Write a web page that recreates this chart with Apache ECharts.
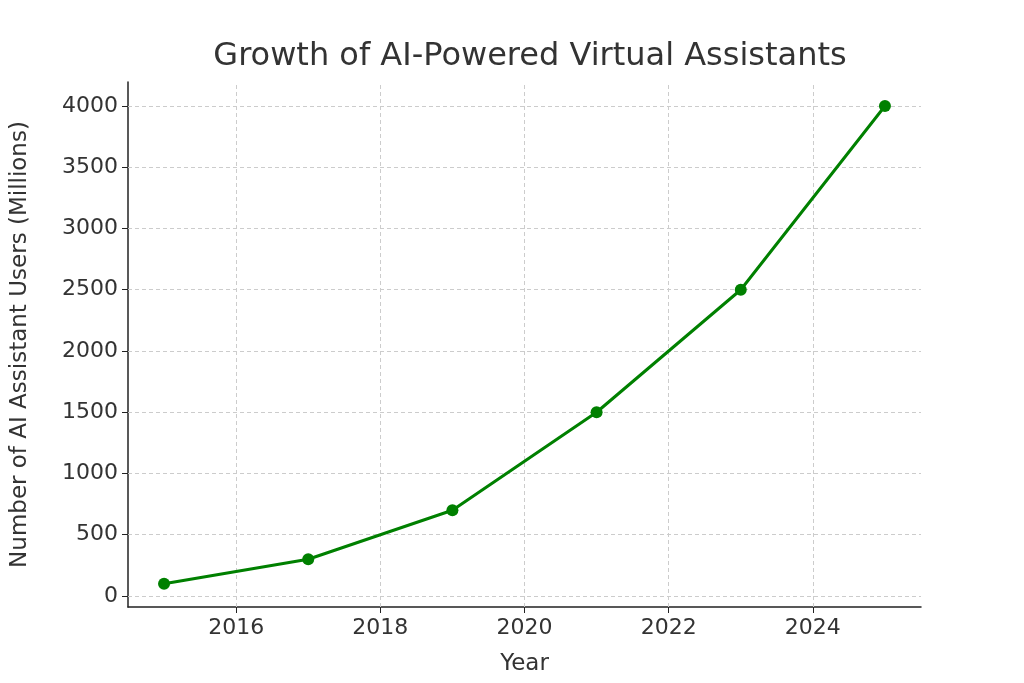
<!DOCTYPE html>
<html><head><meta charset="utf-8">
<script src="https://cdn.jsdelivr.net/npm/echarts@6/dist/echarts.min.js"></script>
<style>html,body{margin:0;background:#fff}#c{width:1024px;height:683px}</style>
</head><body><div id="c"></div>
<script>
const years = [2015, 2017, 2019, 2021, 2023, 2025];
const users = [100, 300, 700, 1500, 2500, 4000];
const xTicks = [2016, 2018, 2020, 2022, 2024];
const yTicks = [0, 500, 1000, 1500, 2000, 2500, 3000, 3500, 4000];

const font = "DejaVu Sans";
const chart = echarts.init(document.getElementById("c"));
chart.setOption({
    title: { text: "Growth of AI-Powered Virtual Assistants", left: 525, textAlign: "center", top: 36,
        textStyle: { fontFamily: font, fontSize: 32, fontWeight: "normal", color: "#333" } },
    grid: { left: 128, right: 103, top: 82, bottom: 76 },
    xAxis: {
        type: "value", min: 2014.5, max: 2025.5,
        name: "Year", nameLocation: "middle", nameGap: 46,
        nameTextStyle: { fontFamily: font, fontSize: 23, color: "#333" },
        axisLine: { onZero: false, lineStyle: { color: "#222", width: 1.5 } },
        axisTick: { show: true, customValues: xTicks, length: 6, lineStyle: { color: "#222" } },
        axisLabel: { customValues: xTicks, formatter: v => String(v), fontFamily: font, fontSize: 22, color: "#333", margin: 10 },
        splitLine: { show: false }
    },
    yAxis: {
        type: "value", min: -90, max: 4196,
        name: "Number of AI Assistant Users (Millions)", nameLocation: "middle", nameGap: 96,
        nameTextStyle: { fontFamily: font, fontSize: 23, color: "#333" },
        axisLine: { show: true, onZero: false, lineStyle: { color: "#222", width: 1.5 } },
        axisTick: { show: true, customValues: yTicks, length: 6, lineStyle: { color: "#222" } },
        axisLabel: { customValues: yTicks, formatter: v => String(v), fontFamily: font, fontSize: 22, color: "#333", margin: 10 },
        splitLine: { show: false }
    },
    series: [
        { type: "line", data: years.map((y, i) => [y, users[i]]),
          lineStyle: { color: "#008000", width: 3 }, itemStyle: { color: "#008000" },
          symbol: "circle", symbolSize: 12, z: 5 },
        { type: "line", data: [], markLine: { silent: true, symbol: "none", label: { show: false },
            lineStyle: { color: "#ccc", type: [4, 3], width: 1 },
            data: xTicks.map(v => ({ xAxis: v })).concat(yTicks.map(v => ({ yAxis: v }))) } }
    ]
});
</script></body></html>
